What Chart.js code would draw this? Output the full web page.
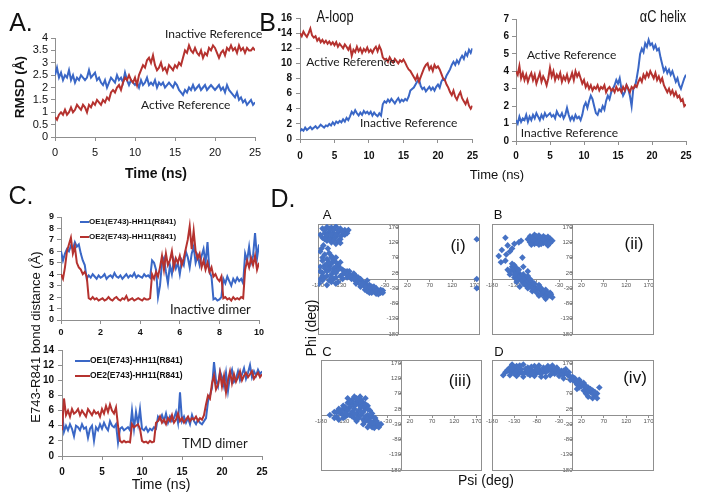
<!DOCTYPE html>
<html>
<head>
<meta charset="utf-8">
<script src="https://cdn.jsdelivr.net/npm/chart.js@4.4.1/dist/chart.umd.min.js"></script>
<style>
  html, body { margin: 0; padding: 0; background: #fff; }
  #fig { position: relative; width: 701px; height: 501px; overflow: hidden;
         font-family: "Liberation Sans", Arial, sans-serif; color: #111; }
  #fig canvas { position: absolute; }
  .t { position: absolute; white-space: nowrap; line-height: 1; transform: translate(-50%, -50%); }
</style>
</head>
<body>
<div id="fig"></div>
<script>
// ---------- panel A : RMSD (A) over 0-25 ns
const rmsdSpan = 25;
const rmsdBlue = [2.5,2.8,2.4,2.6,2.3,2.5,2.4,2.7,2.3,2.5,2.2,2.4,2.3,2.5,2.4,2.3,2.4,2.7,2.4,2.5,2.6,
  2.3,2.4,2.2,2.1,2.3,2.0,2.2,2.4,2.3,2.2,2.5,2.3,2.4,2.2,2.6,2.3,2.1,2.3,2.2,
  2.1,2.2,2.0,2.3,2.1,2.2,2.4,2.1,2.2,2.1,2.3,2.0,2.2,2.1,2.2,2.0,2.1,2.2,2.1,2.0,
  2.2,2.1,1.9,1.8,1.7,1.9,1.8,2.0,1.9,2.1,1.9,2.0,2.1,1.9,2.0,2.1,1.9,2.0,2.1,2.0,
  1.9,2.0,2.1,1.9,2.0,1.8,2.1,1.9,1.8,1.7,1.6,1.8,1.5,1.6,1.4,1.5,1.3,1.4,1.5,1.3,1.4];
const rmsdRed = [0.8,0.7,0.9,1.0,0.9,1.1,0.9,1.0,1.2,1.0,1.1,1.3,1.2,1.1,1.3,1.2,1.0,1.3,1.2,1.4,
  1.3,1.5,1.4,1.3,1.5,1.4,1.6,1.5,1.8,1.9,1.8,2.0,2.1,1.9,2.2,2.4,2.3,2.5,2.3,2.2,
  2.4,2.1,2.5,2.7,2.9,2.8,3.1,3.2,3.0,3.3,2.9,2.7,2.8,3.0,2.7,2.8,2.6,2.9,2.8,2.7,
  2.9,2.8,3.0,2.9,3.2,3.5,3.4,3.7,3.5,3.4,3.6,3.4,3.3,3.5,3.2,3.4,3.3,3.6,3.5,3.7,
  3.6,3.4,3.2,3.4,3.5,3.3,3.6,3.5,3.7,3.5,3.6,3.4,3.7,3.5,3.6,3.4,3.6,3.5,3.5,3.6,3.5];

// ---------- panel B : A-loop and alphaC helix over 0-25 ns
const bSpan = 25;
const aloopRed = [14.0,13.6,14.2,13.8,13.5,14.0,14.6,13.7,13.4,13.6,13.0,13.3,12.8,13.1,12.7,13.0,12.6,12.9,12.5,12.8,
  12.4,12.8,12.2,12.6,12.3,12.0,12.5,12.2,11.8,12.3,11.0,11.8,11.5,12.2,11.6,12.0,11.4,11.9,11.6,12.1,
  11.5,11.8,11.4,11.9,12.2,11.6,12.3,11.8,10.8,10.5,10.6,10.2,10.8,10.4,10.1,10.6,10.3,10.0,10.4,10.2,
  10.5,10.1,9.6,9.2,9.0,8.6,8.2,7.8,8.4,7.6,8.2,8.8,9.4,9.8,10.0,9.2,9.6,9.0,9.8,9.4,
  9.6,9.2,8.6,8.0,7.8,7.2,6.8,6.2,5.8,6.4,5.6,5.2,5.8,6.2,5.4,5.0,4.6,5.2,4.4,4.0,4.4];
const aloopBlue = [1.0,1.3,1.1,1.5,1.2,1.4,1.6,1.3,1.5,1.7,1.4,1.6,1.9,1.7,1.5,1.8,1.7,2.0,1.8,2.2,
  1.9,2.3,2.1,2.4,2.2,2.6,2.3,2.8,2.5,3.0,3.6,3.3,3.8,3.4,3.1,3.5,3.2,3.7,3.4,3.6,
  3.3,3.6,3.1,3.5,3.2,3.0,3.4,3.1,4.6,5.0,4.8,5.2,4.9,5.3,5.0,4.7,5.1,5.4,4.9,5.2,
  5.0,5.3,5.1,5.6,6.4,6.6,6.8,7.2,7.6,7.9,7.0,6.6,6.8,6.3,6.6,6.9,6.5,6.8,6.4,6.9,
  7.2,6.8,7.6,8.0,7.8,8.4,8.8,9.2,9.8,10.2,9.8,10.4,10.0,10.6,11.0,10.6,11.4,11.0,11.8,11.4,12.0];
const helixRed = [4.0,3.8,4.3,3.6,3.9,3.5,3.8,3.4,3.7,3.9,3.5,3.8,3.3,3.6,3.9,3.4,3.7,3.5,3.2,3.6,
  4.2,3.7,4.0,3.5,3.8,3.6,3.9,3.4,3.7,3.5,3.8,3.4,3.6,3.9,3.5,4.0,3.7,3.9,3.6,3.3,
  3.5,3.1,3.3,3.0,3.2,2.9,3.1,3.0,3.2,2.9,3.1,3.0,3.2,2.8,3.0,3.1,2.9,3.0,2.8,3.1,
  2.9,3.0,2.8,3.1,2.9,3.2,3.0,2.8,3.1,3.0,3.2,3.1,3.4,3.6,3.4,3.8,3.6,3.9,3.7,4.0,
  3.8,3.6,3.9,3.5,3.7,3.4,3.6,3.2,3.0,2.8,3.0,2.7,2.9,2.6,2.8,2.5,2.6,2.3,2.4,2.0,2.1];
const helixBlue = [1.2,1.0,1.4,1.1,1.3,1.2,1.5,1.1,1.4,1.2,1.5,1.3,1.6,1.4,1.2,1.5,1.3,1.6,1.4,1.5,
  1.6,1.4,1.5,1.3,1.7,1.5,1.4,1.6,1.3,1.5,1.9,1.5,1.2,1.4,1.2,1.5,1.3,1.4,1.2,1.5,
  2.0,2.2,1.9,2.3,2.6,2.4,2.0,1.6,1.5,1.8,1.7,2.0,1.8,2.3,2.6,2.4,2.8,3.0,3.2,3.5,
  3.3,3.6,3.0,2.6,2.8,3.2,3.0,2.6,2.0,3.0,3.1,3.6,4.2,5.0,5.3,5.1,5.6,5.4,5.8,5.5,
  5.6,5.3,5.5,5.2,5.3,4.8,4.4,4.0,4.2,3.9,4.1,3.8,4.0,3.7,3.4,3.6,3.2,3.0,3.3,3.6,3.8];

// ---------- panel C : E743-R841 distances, inactive dimer (0-10 ns) and TMD dimer (0-25 ns)
const inactSpan = 10;
const inactOE1 = [6.0,5.2,5.8,6.2,6.0,6.5,6.2,6.8,6.4,6.6,5.8,5.2,4.8,3.6,3.9,3.7,4.0,3.8,3.6,3.9,
  3.7,3.8,4.0,3.6,3.8,3.9,3.7,4.1,3.8,3.7,3.9,3.6,3.8,4.0,3.7,3.9,3.8,4.1,3.7,3.9,
  3.8,3.7,4.0,3.8,3.9,3.7,5.2,5.0,4.4,2.0,3.0,5.0,5.4,4.2,3.2,4.8,4.0,5.2,4.5,5.0,
  4.0,5.2,4.8,6.0,5.5,4.6,5.8,6.4,5.0,5.6,4.8,5.6,6.2,5.0,6.8,4.2,3.8,1.8,1.9,1.7,
  1.8,2.0,3.6,3.2,3.8,3.4,3.0,3.6,3.3,3.7,3.4,3.6,3.2,5.8,5.2,6.4,5.0,5.6,7.6,5.4,6.6];
const inactOE2 = [4.0,3.6,4.6,6.0,6.6,7.2,5.8,6.4,5.0,4.6,4.4,4.0,4.2,3.8,1.9,1.8,2.0,1.8,1.9,1.7,
  1.8,1.9,1.7,1.8,2.0,1.8,1.7,1.9,2.0,1.8,1.7,1.9,1.8,2.1,1.7,1.8,1.9,1.7,1.8,1.9,
  1.8,1.7,1.9,1.8,1.8,1.9,4.0,3.6,4.2,3.8,4.6,5.6,4.4,5.8,4.8,5.2,6.0,4.6,5.4,5.0,
  5.6,4.8,5.4,6.2,7.0,8.2,6.2,7.8,6.0,5.4,5.8,4.6,5.2,4.4,5.0,4.2,4.6,3.8,4.0,3.6,
  3.4,3.8,1.9,2.0,1.8,1.9,1.7,2.0,1.8,1.9,1.8,2.0,1.9,4.4,5.2,4.6,5.4,4.8,5.6,4.4,5.0];
const tmdSpan = 25;
const tmdOE1 = [6.0,3.2,4.0,3.4,4.2,3.6,2.6,4.0,3.8,3.4,4.2,3.6,3.8,2.4,3.6,4.0,2.0,3.8,3.4,4.2,
  3.6,4.4,3.8,3.4,4.6,4.0,3.8,4.2,1.8,3.6,3.8,3.4,3.6,3.8,3.4,6.0,3.6,5.8,4.2,6.2,
  3.6,3.4,3.8,3.2,3.6,3.4,3.8,3.6,5.2,4.8,5.4,4.6,5.6,4.4,5.2,4.6,5.0,5.8,4.4,8.4,
  4.6,5.2,4.4,5.0,4.2,5.4,4.6,4.2,4.8,4.4,4.2,4.6,5.0,7.2,8.0,9.0,12.4,10.0,9.2,11.2,
  10.4,9.2,11.0,8.6,10.6,11.4,9.8,10.2,11.2,10.0,10.8,11.6,10.2,11.0,12.0,10.4,11.2,10.6,11.4,10.8,11.2];
const tmdOE2 = [3.4,7.6,5.4,6.0,5.2,6.2,5.6,5.8,6.2,5.4,6.0,5.6,5.2,6.2,5.8,5.4,6.0,5.6,5.8,5.2,
  6.2,5.6,6.6,5.8,6.8,6.0,5.6,6.4,4.0,2.0,1.8,2.0,1.8,1.9,1.8,4.2,3.8,4.0,4.2,3.6,
  2.0,1.8,1.9,1.7,2.0,1.8,1.9,4.4,4.6,5.2,4.4,4.8,4.2,5.0,4.6,5.4,4.4,4.8,5.6,4.6,
  5.0,4.4,4.8,5.2,4.6,5.0,4.8,5.2,4.6,5.0,4.8,5.4,6.8,8.0,7.6,9.6,10.6,8.8,9.4,11.0,
  9.2,10.6,8.4,10.0,11.2,9.6,10.8,9.8,10.4,11.2,10.0,10.6,11.0,10.4,10.8,11.2,10.2,10.6,11.0,10.4,10.8];

// ---------- panel D : [psi, phi] pairs (deg)
const angleTicks = [-180, -130, -80, -30, 20, 70, 120, 170];
const ramaA = [[-170,165],[-160,170],[-150,168],[-140,172],[-130,165],[-120,160],[-165,150],[-155,155],[-145,150],[-135,152],
  [-125,145],[-115,150],[-170,135],[-160,140],[-150,135],[-140,138],[-130,130],[-150,120],[-140,115],[-160,125],[-175,145],[-130,118],
  [-165,160],[-155,165],[-145,160],[-135,160],[-125,155],[-160,145],[-150,145],[-140,145],[-130,140],[-155,130],[-145,128],
  [-135,125],[-165,130],[-120,145],[-112,160],
  [-175,90],[-165,80],[-170,60],[-160,65],[-150,70],[-140,55],[-175,40],[-165,45],[-155,40],[-145,35],[-135,45],[-125,30],
  [-170,20],[-160,25],[-150,15],[-140,20],[-130,10],[-175,0],[-165,5],[-155,-5],[-145,0],[-135,-10],[-178,-15],[-160,-20],
  [-150,75],[-158,100],[-168,110],[-170,70],[-160,50],[-150,50],[-140,40],[-130,35],[-155,30],[-145,25],[-135,30],[-120,25],
  [-165,35],[-175,25],[-170,10],[-160,10],[-150,5],[-140,5],[-125,15],[-115,25],[-155,85],[-172,100],[-145,60],[-155,55],
  [-140,70],[-130,55],[-170,-5],[-150,-10],[-140,-15],[-125,0],[-110,25],
  [-120,20],[-110,15],[-100,18],[-95,10],[-115,5],[-105,0],[-90,5],[-85,-5],[-80,-10],[-95,-8],[-75,-15],[-70,-5],
  [-65,-20],[-60,-25],[-70,-30],[-55,-35],[-50,-30],[-45,-40],[-60,-40],[-40,-45],[-50,-48],[-65,-45],[-75,-35],[-85,-25],[-35,-38],
  [-115,15],[-105,10],[-100,0],[-90,-5],[-80,-15],[-85,0],[-75,-25],[-65,-30],[-55,-40],[-45,-45],[-70,-40],[-60,-45],
  [-50,-38],[-40,-35],[-55,-25],[-95,-15],[-110,8],[-85,-18],[-35,-45],[-45,-50],
  [175,130],[175,0],[175,-30]];
const ramaB = [[-95,140],[-85,145],[-75,142],[-65,140],[-55,138],[-90,128],[-80,130],[-70,125],[-60,128],[-50,132],
  [-85,115],[-75,112],[-65,118],[-55,110],[-95,120],[-45,125],[-90,135],[-80,140],[-70,135],[-60,135],[-85,125],[-75,122],
  [-65,130],[-55,122],[-80,118],[-70,115],[-60,118],[-50,118],[-100,130],[-92,112],
  [-165,75],[-158,95],[-150,135],[-145,110],[-140,90],[-130,115],[-120,120],[-115,125],[-160,55],[-150,60],[-135,100],[-112,70],[-148,80],
  [-145,30],[-135,40],[-130,25],[-125,35],[-120,20],[-140,15],[-130,5],[-120,10],[-110,15],[-115,0],[-105,5],[-100,-5],
  [-125,-10],[-110,-15],[-95,-20],[-90,-10],[-85,-25],[-100,-30],[-80,-35],[-75,-20],[-70,-40],[-90,-40],[-65,-50],[-60,-35],
  [-55,-55],[-75,-55],[-50,-45],[-45,-60],[-60,-65],[-110,40],[-118,-25],[-100,25],[-135,50],
  [-135,30],[-125,20],[-130,15],[-120,30],[-115,10],[-105,-5],[-110,0],[-100,-15],[-95,-25],[-85,-30],[-80,-45],[-70,-50],
  [-65,-40],[-60,-55],[-55,-45],[-50,-55],[-75,-30],[-90,-30],[-105,-20],[-115,-5],[-120,5],[-140,25],[-130,45],[-125,0],
  [-100,10],[-95,0],[-85,-15],[-70,-30],[-62,-60],[-48,-50]];
const ramaC = [[-160,0],[-150,10],[-145,-5],[-140,20],[-135,5],[-130,30],[-125,15],[-120,40],[-115,25],[-110,50],[-105,60],
  [-100,45],[-95,35],[-90,50],[-85,40],[-80,55],[-125,-5],[-115,0],[-110,10],[-105,20],[-100,5],[-95,15],[-90,25],[-85,10],
  [-80,20],[-75,30],[-70,15],[-105,-10],[-95,-5],[-85,-15],[-75,0],[-70,-10],[-65,-5],[-60,-20],[-80,-20],[-70,-30],
  [-55,-35],[-50,-40],[-65,-40],[-45,-30],[-58,-10],[-130,-10],[-140,-15],[-100,-20],[-92,60],[-120,55],[-150,-10],
  [-140,10],[-130,20],[-125,25],[-120,15],[-115,35],[-110,40],[-105,30],[-100,35],[-95,45],[-90,40],[-85,30],[-80,35],
  [-75,20],[-130,0],[-120,0],[-110,-5],[-105,5],[-95,-10],[-90,0],[-80,-5],[-75,-15],[-70,-20],[-65,-25],[-60,-30],
  [-85,-30],[-75,-40],[-60,-42],[-50,-30],[-115,45],[-100,55],[-135,15],[-145,10],[-125,5],[-90,10],[-65,5],[-55,-20]];
const ramaD = [[-150,140],[-140,155],[-135,165],[-130,145],[-125,160],[-120,135],[-115,150],[-110,165],[-105,140],[-100,155],
  [-95,130],[-90,145],[-85,160],[-80,138],[-75,150],[-70,125],[-65,155],[-60,140],[-55,160],[-50,130],[-45,148],[-40,135],
  [-35,155],[-30,128],[-25,145],[-20,132],[-15,150],[-140,130],[-125,128],[-110,125],[-100,135],[-85,128],[-75,162],[-60,125],
  [-45,162],[-20,120],[-10,130],[-5,115],[0,125],[5,110],[10,100],[15,115],[20,95],[25,105],[30,85],[35,90],[40,75],[45,80],
  [50,65],[55,70],[60,90],[45,55],[35,60],[25,80],[15,90],[-130,155],[-118,162],[-145,148],[-155,130],[-138,140],[-92,158],
  [-70,140],[-38,140],[-8,140],[10,85],[30,70],[55,55],
  [-145,145],[-135,150],[-125,145],[-115,140],[-105,150],[-95,145],[-85,145],[-75,140],[-65,145],[-55,145],[-45,140],
  [-35,140],[-25,135],[-15,140],[-130,135],[-110,135],[-90,135],[-70,135],[-50,150],[-30,145],[-5,125],[5,120],[15,105],
  [25,95],[35,80],[45,70],[50,75],[40,85],[30,95],[20,105],[10,110],[0,115],[-120,155],[-100,145],[-80,150],[-60,150],
  [-40,150],[-20,145]];

// ---------- drawing
const BLUE = '#3a67c6';
const RED = '#b5322f';
const DOT = '#4672c4';
const AXIS = '#8f8f8f';
const SANS = '"Liberation Sans", Arial, sans-serif';
const NOTE = '"Lato", "Open Sans", sans-serif';
const fig = document.getElementById('fig');

function addCanvas(left, top, w, h) {
  const c = document.createElement('canvas');
  c.width = w; c.height = h;
  c.style.left = left + 'px'; c.style.top = top + 'px';
  c.style.width = w + 'px'; c.style.height = h + 'px';
  fig.appendChild(c);
  return c;
}

function text(str, cx, cy, css) {
  const d = document.createElement('div');
  d.className = 't';
  d.textContent = str;
  d.style.left = cx + 'px';
  d.style.top = cy + 'px';
  Object.assign(d.style, css || {});
  fig.appendChild(d);
}

function timeSeries(vals, span) {
  return vals.map((v, i) => ({ x: i * span / (vals.length - 1), y: v }));
}

// text placed at data coordinates
function notes(items) {
  return {
    id: 'notes',
    afterDraw(chart) {
      const { ctx, scales } = chart;
      items.forEach(n => {
        ctx.save();
        ctx.font = n.font;
        ctx.fillStyle = '#1a1a1a';
        ctx.textAlign = n.align || 'left';
        ctx.textBaseline = 'middle';
        ctx.fillText(n.text, scales.x.getPixelForValue(n.x), scales.y.getPixelForValue(n.y));
        ctx.restore();
      });
    }
  };
}

// excel-like legend without a box, top left of the plot
function key(o) {
  return {
    id: 'key',
    afterDraw(chart) {
      const { ctx, chartArea } = chart;
      chart.data.datasets.forEach((ds, i) => {
        const x = chartArea.left + o.dx;
        const y = chartArea.top + o.dy + i * o.gap;
        ctx.save();
        ctx.strokeStyle = ds.borderColor;
        ctx.lineWidth = 2;
        ctx.beginPath(); ctx.moveTo(x, y); ctx.lineTo(x + o.len, y); ctx.stroke();
        ctx.font = o.font;
        ctx.fillStyle = '#111';
        ctx.textBaseline = 'middle';
        ctx.fillText(ds.label, x + o.len, y);
        ctx.restore();
      });
    }
  };
}

const frame = {
  id: 'frame',
  beforeDatasetsDraw(chart) {
    const { ctx, chartArea: a } = chart;
    ctx.save();
    ctx.strokeStyle = AXIS;
    ctx.lineWidth = 1;
    ctx.strokeRect(Math.round(a.left) + 0.5, Math.round(a.top) + 0.5, Math.round(a.width), Math.round(a.height));
    ctx.restore();
  }
};

const plainNum = v => String(+v.toFixed(2));

function timePlot(p) {
  const cv = addCanvas(p.left, p.top, p.w, p.h);
  const tickFont = { family: SANS, size: p.fs, weight: p.bold ? 'bold' : 'normal' };
  const plugins = [notes(p.notes || [])];
  if (p.key) plugins.push(key(p.key));
  return new Chart(cv, {
    type: 'line',
    data: {
      datasets: p.lines.map(l => ({
        label: l.label,
        data: timeSeries(l.values, p.xMax),
        borderColor: l.color,
        backgroundColor: l.color,
        borderWidth: 2,
        pointRadius: 0,
        tension: 0,
        fill: false,
        order: l.order
      }))
    },
    options: {
      responsive: false,
      animation: false,
      events: [],
      layout: { padding: { top: p.pt, right: p.pr, bottom: 0, left: 0 } },
      plugins: { legend: { display: false }, tooltip: { enabled: false } },
      scales: {
        x: {
          type: 'linear', min: 0, max: p.xMax,
          afterFit: a => { a.height = p.xh; },
          ticks: { stepSize: p.xStep, padding: p.xPad, color: '#111', font: tickFont, maxRotation: 0, autoSkip: false, callback: plainNum },
          grid: { drawOnChartArea: false, tickLength: 4, color: AXIS },
          border: { color: AXIS }
        },
        y: {
          type: 'linear', min: 0, max: p.yMax,
          afterFit: a => { a.width = p.yw; },
          ticks: { stepSize: p.yStep, padding: p.yPad, color: '#111', font: tickFont, autoSkip: false, callback: plainNum },
          grid: { drawOnChartArea: false, tickLength: 4, color: AXIS },
          border: { color: AXIS }
        }
      }
    },
    plugins
  });
}

function ramaPlot(box, pts) {
  const pad = 10;
  const cv = addCanvas(box.left - pad, box.top - pad, box.w + 2 * pad, box.h + 2 * pad);
  const axis = pos => ({
    type: 'linear', min: -180, max: 180, position: pos,
    afterBuildTicks: a => { a.ticks = angleTicks.map(v => ({ value: v })); },
    ticks: { color: '#555', font: { family: SANS, size: 6 }, padding: 1, autoSkip: false, maxRotation: 0 },
    grid: { drawOnChartArea: false, tickLength: 2, color: AXIS },
    border: { color: AXIS }
  });
  return new Chart(cv, {
    type: 'scatter',
    data: {
      datasets: [{
        data: pts.map(([x, y]) => ({ x, y })),
        pointStyle: 'rectRot',
        pointRadius: 3.3,
        backgroundColor: DOT,
        borderColor: DOT,
        borderWidth: 0
      }]
    },
    options: {
      responsive: false,
      animation: false,
      events: [],
      layout: { padding: pad },
      plugins: { legend: { display: false }, tooltip: { enabled: false } },
      scales: { x: axis({ y: 0 }), y: axis({ x: 0 }) }
    },
    plugins: [frame]
  });
}

const noteFont = '12px ' + NOTE;

// A
timePlot({
  left: 0, top: 25, w: 270, h: 165, yw: 55, xh: 53, pt: 13, pr: 15,
  xMax: rmsdSpan, xStep: 5, yMax: 4, yStep: 0.5, fs: 11, bold: false, xPad: 5, yPad: 3,
  lines: [
    { label: 'Active Reference', values: rmsdBlue, color: BLUE, order: 1 },
    { label: 'Inactive Reference', values: rmsdRed, color: RED, order: 0 }
  ],
  notes: [
    { text: 'Inactive Reference', x: 13.75, y: 4.16, font: noteFont },
    { text: 'Active Reference', x: 10.75, y: 1.29, font: noteFont }
  ]
});

// B, A-loop
timePlot({
  left: 270, top: 8, w: 215, h: 165, yw: 30, xh: 34, pt: 10, pr: 12,
  xMax: bSpan, xStep: 5, yMax: 16, yStep: 2, fs: 10, bold: true, xPad: 7, yPad: 4,
  lines: [
    { label: 'Inactive Reference', values: aloopBlue, color: BLUE, order: 1 },
    { label: 'Active Reference', values: aloopRed, color: RED, order: 0 }
  ],
  notes: [
    { text: 'Active Reference', x: 0.9, y: 10.2, font: noteFont },
    { text: 'Inactive Reference', x: 8.7, y: 2.1, font: noteFont }
  ]
});

// B, alphaC helix
timePlot({
  left: 485, top: 8, w: 216, h: 165, yw: 31, xh: 32, pt: 11, pr: 15,
  xMax: bSpan, xStep: 5, yMax: 7, yStep: 1, fs: 10, bold: true, xPad: 5, yPad: 3,
  lines: [
    { label: 'Inactive Reference', values: helixBlue, color: BLUE, order: 1 },
    { label: 'Active Reference', values: helixRed, color: RED, order: 0 }
  ],
  notes: [
    { text: 'Active Reference', x: 1.6, y: 4.9, font: noteFont },
    { text: 'Inactive Reference', x: 0.7, y: 0.46, font: noteFont }
  ]
});

// C, inactive dimer
timePlot({
  left: 0, top: 205, w: 275, h: 135, yw: 61, xh: 20, pt: 12, pr: 16,
  xMax: inactSpan, xStep: 2, yMax: 9, yStep: 1, fs: 9, bold: true, xPad: 3, yPad: 3,
  lines: [
    { label: 'OE1(E743)-HH11(R841)', values: inactOE1, color: BLUE, order: 1 },
    { label: 'OE2(E743)-HH11(R841)', values: inactOE2, color: RED, order: 0 }
  ],
  key: { dx: 19, dy: 5, gap: 15, len: 9, font: 'bold 8px ' + SANS },
  notes: [{ text: 'Inactive dimer', x: 5.5, y: 0.87, font: '13px ' + NOTE }]
});

// C, TMD dimer
timePlot({
  left: 0, top: 340, w: 278, h: 145, yw: 62, xh: 29, pt: 9, pr: 16,
  xMax: tmdSpan, xStep: 5, yMax: 14, yStep: 2, fs: 10, bold: true, xPad: 6, yPad: 4,
  lines: [
    { label: 'OE1(E743)-HH11(R841)', values: tmdOE1, color: BLUE, order: 1 },
    { label: 'OE2(E743)-HH11(R841)', values: tmdOE2, color: RED, order: 0 }
  ],
  key: { dx: 13, dy: 11, gap: 15, len: 15, font: 'bold 8.5px ' + SANS },
  notes: [{ text: 'TMD dimer', x: 15, y: 1.57, font: '13px ' + NOTE }]
});

// D, phi/psi maps
ramaPlot({ left: 318, top: 224, w: 161, h: 110 }, ramaA);
ramaPlot({ left: 492, top: 224, w: 161, h: 110 }, ramaB);
ramaPlot({ left: 321, top: 360, w: 160, h: 110 }, ramaC);
ramaPlot({ left: 492, top: 360, w: 161, h: 110 }, ramaD);

// titles and labels
const big = { fontSize: '25px' };
text('A.', 21, 22, big);
text('B.', 271, 22, big);
text('C.', 21, 195, big);
text('D.', 283, 198, big);

text('RMSD (\u00C5)', 20, 87, { fontSize: '13.5px', fontWeight: 'bold', transform: 'translate(-50%,-50%) rotate(-90deg)' });
text('Time (ns)', 156, 173, { fontSize: '14px', fontWeight: 'bold' });

text('A-loop', 335, 17, { fontSize: '16px', transform: 'translate(-50%,-50%) scaleX(0.8)' });
text('\u03B1C helix', 663, 17, { fontSize: '16px', transform: 'translate(-50%,-50%) scaleX(0.8)' });
text('Time (ns)', 497, 174, { fontSize: '13px' });

text('E743-R841 bond distance (\u00C5)', 35, 337, { fontSize: '13px', transform: 'translate(-50%,-50%) rotate(-90deg)' });
text('Time (ns)', 161, 484, { fontSize: '14px' });

text('A', 327, 214, { fontSize: '13px' });
text('B', 498, 214, { fontSize: '13px' });
text('C', 327, 351, { fontSize: '13px' });
text('D', 499, 351, { fontSize: '13px' });
text('(i)', 458, 245, { fontSize: '17px' });
text('(ii)', 634, 243, { fontSize: '17px' });
text('(iii)', 460, 380, { fontSize: '17px' });
text('(iv)', 635, 377, { fontSize: '17px' });
text('Phi (deg)', 311, 328, { fontSize: '14px', transform: 'translate(-50%,-50%) rotate(-90deg)' });
text('Psi (deg)', 486, 480, { fontSize: '14px' });
</script>
</body>
</html>
